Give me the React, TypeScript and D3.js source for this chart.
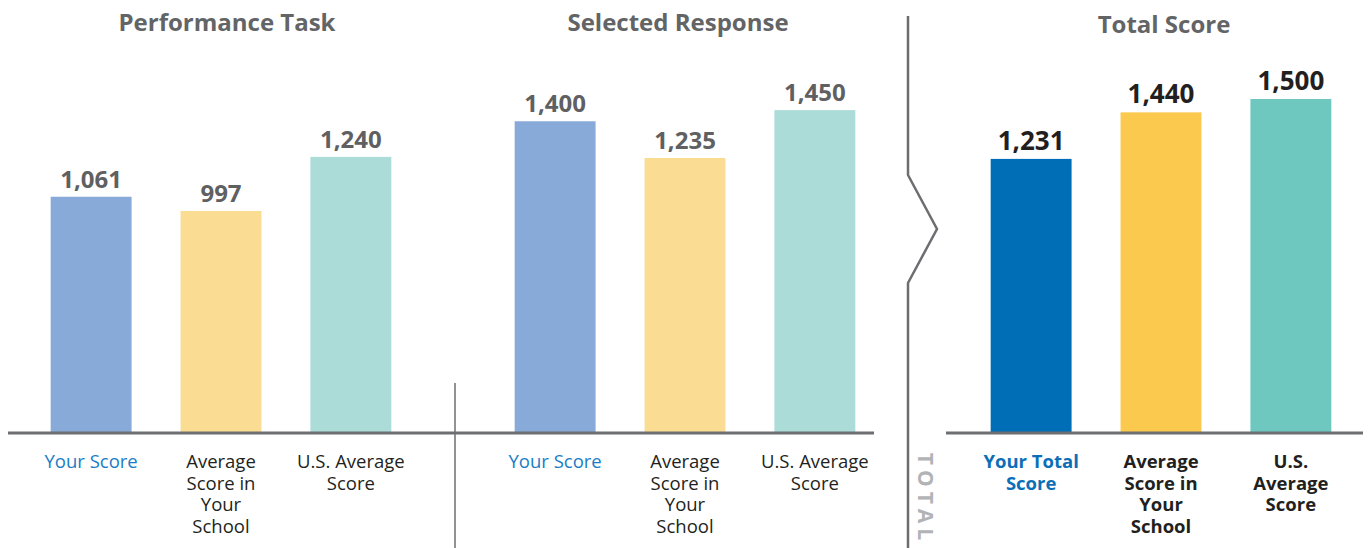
import React from 'react';
import * as d3 from 'd3';

// chart data
const panelTitles = ['Performance Task', 'Selected Response', 'Total Score'];
const categories = ['Your Score', 'School Average', 'U.S. Average'];
const performanceValues = [1061, 997, 1240];
const selectedValues = [1400, 1235, 1450];
const totalValues = [1231, 1440, 1500];
const sectionLabels = [['Your Score'], ['Average', 'Score in', 'Your', 'School'], ['U.S. Average', 'Score']];
const totalLabels = [['Your Total', 'Score'], ['Average', 'Score in', 'Your', 'School'], ['U.S.', 'Average', 'Score']];

const W = 1371;
const H = 548;
const baseY = 433;
const FONT = "'Open Sans', 'Noto Sans', sans-serif";

const lightColors = ['#87aad8', '#fadd93', '#acdcd8'];
const darkColors = ['#006eb7', '#fcc94f', '#6fc8bf'];

const y = d3.scaleLinear().domain([0, 1500]).range([baseY, 99]);
const fmt = d3.format(',');

interface PanelProps {
  title: string;
  titleX: number;
  titleY: number;
  x0: number;
  values: number[];
  labels: string[][];
  colors: string[];
  total?: boolean;
}

const Panel: React.FC<PanelProps> = ({ title, titleX, titleY, x0, values, labels, colors, total }) => {
  const x = d3.scaleBand<string>().domain(categories).range([x0, x0 + 390]).paddingInner(0.377).paddingOuter(0.19);
  return (
    <g>
      <text x={titleX} y={titleY} textAnchor="middle" fontFamily={FONT} fontWeight={700} fontSize={24} fill="#636466">
        {title}
      </text>
      {categories.map((c, i) => {
        const bx = x(c) as number;
        const cx = bx + x.bandwidth() / 2;
        return (
          <g key={c}>
            <rect x={bx} y={y(values[i])} width={x.bandwidth()} height={baseY - y(values[i])} fill={colors[i]} />
            <text
              x={cx}
              y={y(values[i]) - 9}
              textAnchor="middle"
              fontFamily={FONT}
              fontWeight={700}
              fontSize={total ? 26 : 24}
              fill={total ? '#231f20' : '#5f6062'}
            >
              {fmt(values[i])}
            </text>
            <text
              x={cx}
              y={468}
              textAnchor="middle"
              fontFamily={FONT}
              fontWeight={total ? 700 : 400}
              fontSize={18.5}
              fill={i === 0 ? (total ? '#0b6fb8' : '#1a7dc4') : '#231f20'}
            >
              {labels[i].map((l, k) => (
                <tspan key={k} x={cx} dy={k === 0 ? 0 : 21.5}>
                  {l}
                </tspan>
              ))}
            </text>
          </g>
        );
      })}
    </g>
  );
};

export default function App() {
  const divider = d3.line()([
    [908, 16],
    [908, 175],
    [937, 229],
    [908, 283],
    [908, H],
  ]) as string;
  return (
    <svg width={W} height={H} style={{ position: 'absolute', left: 0, top: 0, background: '#fff' }}>
      <Panel title={panelTitles[0]} titleX={227} titleY={31} x0={26} values={performanceValues} labels={sectionLabels} colors={lightColors} />
      <Panel title={panelTitles[1]} titleX={678} titleY={31} x0={490} values={selectedValues} labels={sectionLabels} colors={lightColors} />
      <Panel title={panelTitles[2]} titleX={1164} titleY={33} x0={966} values={totalValues} labels={totalLabels} colors={darkColors} total />
      <line x1={8} x2={874} y1={baseY} y2={baseY} stroke="#6d6e71" strokeWidth={3} />
      <line x1={946} x2={1363} y1={baseY} y2={baseY} stroke="#6d6e71" strokeWidth={3} />
      <line x1={455} x2={455} y1={383} y2={H} stroke="#6d6e71" strokeWidth={1.5} />
      <path d={divider} fill="none" stroke="#6d6e71" strokeWidth={2.5} />
      <text
        transform="translate(918,499) rotate(90)"
        textAnchor="middle"
        fontFamily={FONT}
        fontWeight={700}
        fontSize={21}
        letterSpacing={5}
        fill="#b1b3b6"
      >
        TOTAL
      </text>
    </svg>
  );
}
